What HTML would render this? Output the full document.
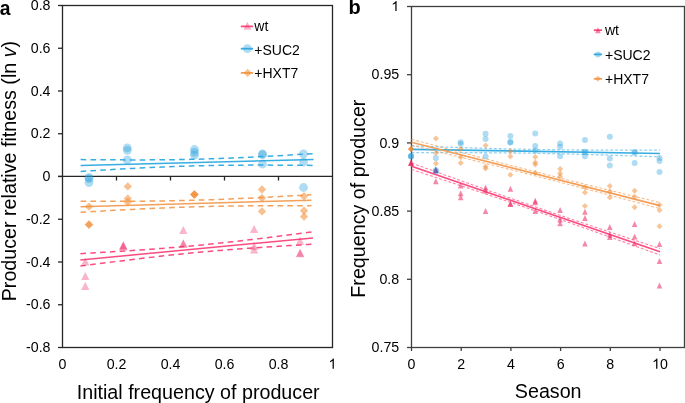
<!DOCTYPE html>
<html><head><meta charset="utf-8"><style>
html,body{margin:0;padding:0;background:#fff;overflow:hidden;}
svg{display:block;font-family:"Liberation Sans", sans-serif;will-change:transform;}
text{fill:#000;}
</style></head><body>
<svg width="685" height="403" viewBox="0 0 685 403">
<rect x="62.5" y="5.5" width="270.0" height="342.0" fill="none" stroke="#262626" stroke-width="1.3"/>
<line x1="58.00" y1="176.30" x2="332.50" y2="176.30" stroke="#262626" stroke-width="1.3" />
<line x1="58.00" y1="5.50" x2="62.50" y2="5.50" stroke="#262626" stroke-width="1.3" />
<text x="50.50" y="10.10" font-size="14.2" text-anchor="end" >0.8</text>
<line x1="58.00" y1="48.25" x2="62.50" y2="48.25" stroke="#262626" stroke-width="1.3" />
<text x="50.50" y="52.85" font-size="14.2" text-anchor="end" >0.6</text>
<line x1="58.00" y1="91.00" x2="62.50" y2="91.00" stroke="#262626" stroke-width="1.3" />
<text x="50.50" y="95.60" font-size="14.2" text-anchor="end" >0.4</text>
<line x1="58.00" y1="133.75" x2="62.50" y2="133.75" stroke="#262626" stroke-width="1.3" />
<text x="50.50" y="138.35" font-size="14.2" text-anchor="end" >0.2</text>
<line x1="58.00" y1="176.50" x2="62.50" y2="176.50" stroke="#262626" stroke-width="1.3" />
<text x="50.50" y="181.10" font-size="14.2" text-anchor="end" >0</text>
<line x1="58.00" y1="219.25" x2="62.50" y2="219.25" stroke="#262626" stroke-width="1.3" />
<text x="50.50" y="223.85" font-size="14.2" text-anchor="end" >-0.2</text>
<line x1="58.00" y1="262.00" x2="62.50" y2="262.00" stroke="#262626" stroke-width="1.3" />
<text x="50.50" y="266.60" font-size="14.2" text-anchor="end" >-0.4</text>
<line x1="58.00" y1="304.75" x2="62.50" y2="304.75" stroke="#262626" stroke-width="1.3" />
<text x="50.50" y="309.35" font-size="14.2" text-anchor="end" >-0.6</text>
<line x1="58.00" y1="347.50" x2="62.50" y2="347.50" stroke="#262626" stroke-width="1.3" />
<text x="50.50" y="352.10" font-size="14.2" text-anchor="end" >-0.8</text>
<line x1="116.50" y1="176.30" x2="116.50" y2="180.50" stroke="#262626" stroke-width="1.3" />
<line x1="170.50" y1="176.30" x2="170.50" y2="180.50" stroke="#262626" stroke-width="1.3" />
<line x1="224.50" y1="176.30" x2="224.50" y2="180.50" stroke="#262626" stroke-width="1.3" />
<line x1="278.50" y1="176.30" x2="278.50" y2="180.50" stroke="#262626" stroke-width="1.3" />
<text x="62.50" y="368.70" font-size="14.2" text-anchor="middle" >0</text>
<text x="116.50" y="368.70" font-size="14.2" text-anchor="middle" >0.2</text>
<text x="170.50" y="368.70" font-size="14.2" text-anchor="middle" >0.4</text>
<text x="224.50" y="368.70" font-size="14.2" text-anchor="middle" >0.6</text>
<text x="278.50" y="368.70" font-size="14.2" text-anchor="middle" >0.8</text>
<path transform="translate(328.55,368.70) scale(0.00693,-0.00693)" d="M763 0L583 0L583 1147Q518 1085 412.5 1023Q307 961 223 930L223 1104Q374 1175 487 1276Q600 1377 647 1472L763 1472Z" fill="#000"/>
<rect x="411.5" y="6.5" width="273.0" height="341.0" fill="none" stroke="#3f3f3f" stroke-width="1.3"/>
<line x1="407.00" y1="6.50" x2="411.50" y2="6.50" stroke="#3f3f3f" stroke-width="1.3" />
<path transform="translate(391.30,11.10) scale(0.00693,-0.00693)" d="M763 0L583 0L583 1147Q518 1085 412.5 1023Q307 961 223 930L223 1104Q374 1175 487 1276Q600 1377 647 1472L763 1472Z" fill="#000"/>
<line x1="407.00" y1="74.70" x2="411.50" y2="74.70" stroke="#3f3f3f" stroke-width="1.3" />
<text x="399.20" y="79.30" font-size="14.2" text-anchor="end" >0.95</text>
<line x1="407.00" y1="142.90" x2="411.50" y2="142.90" stroke="#3f3f3f" stroke-width="1.3" />
<text x="399.20" y="147.50" font-size="14.2" text-anchor="end" >0.9</text>
<line x1="407.00" y1="211.10" x2="411.50" y2="211.10" stroke="#3f3f3f" stroke-width="1.3" />
<text x="399.20" y="215.70" font-size="14.2" text-anchor="end" >0.85</text>
<line x1="407.00" y1="279.30" x2="411.50" y2="279.30" stroke="#3f3f3f" stroke-width="1.3" />
<text x="399.20" y="283.90" font-size="14.2" text-anchor="end" >0.8</text>
<line x1="407.00" y1="347.50" x2="411.50" y2="347.50" stroke="#3f3f3f" stroke-width="1.3" />
<text x="399.20" y="352.10" font-size="14.2" text-anchor="end" >0.75</text>
<line x1="411.50" y1="347.50" x2="411.50" y2="351.00" stroke="#3f3f3f" stroke-width="1.3" />
<text x="411.50" y="368.70" font-size="14.2" text-anchor="middle" >0</text>
<line x1="461.20" y1="347.50" x2="461.20" y2="351.00" stroke="#3f3f3f" stroke-width="1.3" />
<text x="461.20" y="368.70" font-size="14.2" text-anchor="middle" >2</text>
<line x1="510.90" y1="347.50" x2="510.90" y2="351.00" stroke="#3f3f3f" stroke-width="1.3" />
<text x="510.90" y="368.70" font-size="14.2" text-anchor="middle" >4</text>
<line x1="560.60" y1="347.50" x2="560.60" y2="351.00" stroke="#3f3f3f" stroke-width="1.3" />
<text x="560.60" y="368.70" font-size="14.2" text-anchor="middle" >6</text>
<line x1="610.30" y1="347.50" x2="610.30" y2="351.00" stroke="#3f3f3f" stroke-width="1.3" />
<text x="610.30" y="368.70" font-size="14.2" text-anchor="middle" >8</text>
<line x1="660.00" y1="347.50" x2="660.00" y2="351.00" stroke="#3f3f3f" stroke-width="1.3" />
<path transform="translate(652.10,368.70) scale(0.00693,-0.00693)" d="M763 0L583 0L583 1147Q518 1085 412.5 1023Q307 961 223 930L223 1104Q374 1175 487 1276Q600 1377 647 1472L763 1472Z" fill="#000"/>
<text x="660.00" y="368.70" font-size="14.2" text-anchor="start" >0</text>
<polyline points="80.60,159.60 86.42,159.65 92.25,159.70 98.07,159.74 103.90,159.78 109.72,159.82 115.55,159.84 121.38,159.87 127.20,159.88 133.03,159.89 138.85,159.89 144.68,159.88 150.50,159.86 156.32,159.83 162.15,159.79 167.98,159.73 173.80,159.66 179.62,159.57 185.45,159.46 191.28,159.34 197.10,159.20 202.93,159.04 208.75,158.86 214.58,158.67 220.40,158.46 226.23,158.23 232.05,157.99 237.88,157.73 243.70,157.46 249.53,157.18 255.35,156.89 261.18,156.59 267.00,156.28 272.83,155.97 278.65,155.64 284.48,155.32 290.30,154.98 296.12,154.64 301.95,154.30 307.78,153.95 313.60,153.60" fill="none" stroke="#38ade3" stroke-width="1.5" stroke-dasharray="5.6 4.25" stroke-opacity="1"/>
<polyline points="80.60,171.40 86.42,171.05 92.25,170.70 98.07,170.36 103.90,170.02 109.72,169.68 115.55,169.36 121.38,169.03 127.20,168.72 133.03,168.41 138.85,168.11 144.68,167.82 150.50,167.54 156.32,167.27 162.15,167.01 167.98,166.77 173.80,166.54 179.62,166.33 185.45,166.14 191.28,165.96 197.10,165.80 202.93,165.66 208.75,165.54 214.58,165.43 220.40,165.34 226.23,165.27 232.05,165.21 237.88,165.17 243.70,165.14 249.53,165.12 255.35,165.11 261.18,165.11 267.00,165.12 272.83,165.13 278.65,165.16 284.48,165.18 290.30,165.22 296.12,165.26 301.95,165.30 307.78,165.35 313.60,165.40" fill="none" stroke="#38ade3" stroke-width="1.5" stroke-dasharray="5.6 4.25" stroke-opacity="1"/>
<line x1="80.60" y1="165.50" x2="313.60" y2="159.50" stroke="#38ade3" stroke-width="1.5" />
<polyline points="80.60,201.30 86.37,201.31 92.14,201.32 97.91,201.32 103.68,201.32 109.45,201.31 115.22,201.30 120.99,201.28 126.76,201.25 132.53,201.22 138.30,201.18 144.07,201.14 149.84,201.08 155.61,201.01 161.38,200.94 167.15,200.85 172.92,200.74 178.69,200.63 184.46,200.50 190.23,200.36 196.00,200.20 201.77,200.03 207.54,199.84 213.31,199.64 219.08,199.42 224.85,199.20 230.62,198.96 236.39,198.70 242.16,198.44 247.93,198.17 253.70,197.88 259.47,197.59 265.24,197.29 271.01,196.99 276.78,196.68 282.55,196.36 288.32,196.04 294.09,195.71 299.86,195.38 305.63,195.04 311.40,194.70" fill="none" stroke="#f4a05a" stroke-width="1.5" stroke-dasharray="5.6 4.25" stroke-opacity="1"/>
<polyline points="80.60,212.30 86.37,211.96 92.14,211.62 97.91,211.29 103.68,210.96 109.45,210.64 115.22,210.32 120.99,210.01 126.76,209.71 132.53,209.41 138.30,209.12 144.07,208.83 149.84,208.56 155.61,208.30 161.38,208.04 167.15,207.80 172.92,207.58 178.69,207.36 184.46,207.16 190.23,206.97 196.00,206.80 201.77,206.64 207.54,206.50 213.31,206.37 219.08,206.26 224.85,206.15 230.62,206.06 236.39,205.99 242.16,205.92 247.93,205.86 253.70,205.82 259.47,205.78 265.24,205.75 271.01,205.72 276.78,205.70 282.55,205.69 288.32,205.68 294.09,205.68 299.86,205.68 305.63,205.69 311.40,205.70" fill="none" stroke="#f4a05a" stroke-width="1.5" stroke-dasharray="5.6 4.25" stroke-opacity="1"/>
<line x1="80.60" y1="206.80" x2="311.40" y2="200.20" stroke="#f4a05a" stroke-width="1.5" />
<polyline points="80.40,253.70 86.22,253.36 92.03,253.02 97.84,252.67 103.66,252.32 109.48,251.97 115.29,251.61 121.11,251.24 126.92,250.86 132.74,250.48 138.55,250.09 144.37,249.69 150.18,249.28 156.00,248.85 161.81,248.41 167.62,247.96 173.44,247.49 179.25,247.01 185.07,246.51 190.88,245.99 196.70,245.45 202.51,244.89 208.33,244.32 214.15,243.72 219.96,243.11 225.78,242.49 231.59,241.84 237.41,241.19 243.22,240.52 249.03,239.83 254.85,239.14 260.66,238.44 266.48,237.72 272.30,237.00 278.11,236.28 283.93,235.54 289.74,234.80 295.55,234.06 301.37,233.31 307.19,232.56 313.00,231.80" fill="none" stroke="#fb4c80" stroke-width="1.5" stroke-dasharray="5.6 4.25" stroke-opacity="1"/>
<polyline points="80.40,266.10 86.22,265.34 92.03,264.59 97.84,263.84 103.66,263.10 109.48,262.36 115.29,261.62 121.11,260.90 126.92,260.18 132.74,259.46 138.55,258.76 144.37,258.07 150.18,257.38 156.00,256.71 161.81,256.06 167.62,255.41 173.44,254.79 179.25,254.18 185.07,253.58 190.88,253.01 196.70,252.45 202.51,251.91 208.33,251.39 214.15,250.89 219.96,250.41 225.78,249.94 231.59,249.49 237.41,249.05 243.22,248.62 249.03,248.21 254.85,247.81 260.66,247.42 266.48,247.04 272.30,246.66 278.11,246.29 283.93,245.93 289.74,245.58 295.55,245.23 301.37,244.88 307.19,244.54 313.00,244.20" fill="none" stroke="#fb4c80" stroke-width="1.5" stroke-dasharray="5.6 4.25" stroke-opacity="1"/>
<line x1="80.40" y1="259.90" x2="313.00" y2="238.00" stroke="#fb4c80" stroke-width="1.5" />
<circle cx="89.00" cy="177.40" r="4.4" fill="#2ea3dc" fill-opacity="0.38"/>
<circle cx="89.00" cy="178.60" r="4.4" fill="#2ea3dc" fill-opacity="0.38"/>
<circle cx="89.00" cy="182.60" r="4.4" fill="#2ea3dc" fill-opacity="0.38"/>
<circle cx="127.30" cy="147.90" r="4.4" fill="#2ea3dc" fill-opacity="0.38"/>
<circle cx="127.30" cy="150.30" r="4.4" fill="#2ea3dc" fill-opacity="0.38"/>
<circle cx="127.30" cy="159.80" r="4.4" fill="#2ea3dc" fill-opacity="0.38"/>
<circle cx="194.50" cy="149.50" r="4.4" fill="#2ea3dc" fill-opacity="0.38"/>
<circle cx="194.50" cy="152.40" r="4.4" fill="#2ea3dc" fill-opacity="0.38"/>
<circle cx="194.50" cy="155.20" r="4.4" fill="#2ea3dc" fill-opacity="0.38"/>
<circle cx="262.50" cy="154.00" r="4.4" fill="#2ea3dc" fill-opacity="0.38"/>
<circle cx="262.50" cy="154.60" r="4.4" fill="#2ea3dc" fill-opacity="0.38"/>
<circle cx="262.50" cy="164.00" r="4.4" fill="#2ea3dc" fill-opacity="0.38"/>
<circle cx="303.50" cy="153.80" r="4.4" fill="#2ea3dc" fill-opacity="0.38"/>
<circle cx="303.50" cy="162.00" r="4.4" fill="#2ea3dc" fill-opacity="0.38"/>
<circle cx="303.50" cy="187.50" r="4.4" fill="#2ea3dc" fill-opacity="0.38"/>
<path d="M89.00 202.40L93.20 206.60L89.00 210.80L84.80 206.60Z" fill="#f08c32" fill-opacity="0.55"/>
<path d="M89.00 220.20L93.20 224.40L89.00 228.60L84.80 224.40Z" fill="#f08c32" fill-opacity="0.55"/>
<path d="M89.00 220.60L93.20 224.80L89.00 229.00L84.80 224.80Z" fill="#f08c32" fill-opacity="0.55"/>
<path d="M127.80 182.20L132.00 186.40L127.80 190.60L123.60 186.40Z" fill="#f08c32" fill-opacity="0.55"/>
<path d="M127.80 194.40L132.00 198.60L127.80 202.80L123.60 198.60Z" fill="#f08c32" fill-opacity="0.55"/>
<path d="M127.80 197.80L132.00 202.00L127.80 206.20L123.60 202.00Z" fill="#f08c32" fill-opacity="0.55"/>
<path d="M194.40 190.20L198.60 194.40L194.40 198.60L190.20 194.40Z" fill="#f08c32" fill-opacity="0.55"/>
<path d="M194.40 190.30L198.60 194.50L194.40 198.70L190.20 194.50Z" fill="#f08c32" fill-opacity="0.55"/>
<path d="M194.40 190.40L198.60 194.60L194.40 198.80L190.20 194.60Z" fill="#f08c32" fill-opacity="0.55"/>
<path d="M262.00 185.30L266.20 189.50L262.00 193.70L257.80 189.50Z" fill="#f08c32" fill-opacity="0.55"/>
<path d="M262.00 193.80L266.20 198.00L262.00 202.20L257.80 198.00Z" fill="#f08c32" fill-opacity="0.55"/>
<path d="M262.00 207.20L266.20 211.40L262.00 215.60L257.80 211.40Z" fill="#f08c32" fill-opacity="0.55"/>
<path d="M304.00 192.10L308.20 196.30L304.00 200.50L299.80 196.30Z" fill="#f08c32" fill-opacity="0.55"/>
<path d="M304.00 206.50L308.20 210.70L304.00 214.90L299.80 210.70Z" fill="#f08c32" fill-opacity="0.55"/>
<path d="M304.00 212.40L308.20 216.60L304.00 220.80L299.80 216.60Z" fill="#f08c32" fill-opacity="0.55"/>
<path d="M85.30 257.45L89.40 265.55L81.20 265.55Z" fill="#ee2a66" fill-opacity="0.35"/>
<path d="M85.30 271.95L89.40 280.05L81.20 280.05Z" fill="#ee2a66" fill-opacity="0.35"/>
<path d="M85.30 281.95L89.40 290.05L81.20 290.05Z" fill="#ee2a66" fill-opacity="0.35"/>
<path d="M123.30 241.15L127.40 249.25L119.20 249.25Z" fill="#ee2a66" fill-opacity="0.35"/>
<path d="M123.30 241.55L127.40 249.65L119.20 249.65Z" fill="#ee2a66" fill-opacity="0.35"/>
<path d="M123.30 242.15L127.40 250.25L119.20 250.25Z" fill="#ee2a66" fill-opacity="0.35"/>
<path d="M183.30 225.95L187.40 234.05L179.20 234.05Z" fill="#ee2a66" fill-opacity="0.35"/>
<path d="M183.30 239.35L187.40 247.45L179.20 247.45Z" fill="#ee2a66" fill-opacity="0.35"/>
<path d="M183.30 239.75L187.40 247.85L179.20 247.85Z" fill="#ee2a66" fill-opacity="0.35"/>
<path d="M254.10 224.95L258.20 233.05L250.00 233.05Z" fill="#ee2a66" fill-opacity="0.35"/>
<path d="M254.10 241.95L258.20 250.05L250.00 250.05Z" fill="#ee2a66" fill-opacity="0.35"/>
<path d="M254.10 245.45L258.20 253.55L250.00 253.55Z" fill="#ee2a66" fill-opacity="0.35"/>
<path d="M300.10 236.65L304.20 244.75L296.00 244.75Z" fill="#ee2a66" fill-opacity="0.35"/>
<path d="M300.10 248.75L304.20 256.85L296.00 256.85Z" fill="#ee2a66" fill-opacity="0.35"/>
<path d="M300.10 249.15L304.20 257.25L296.00 257.25Z" fill="#ee2a66" fill-opacity="0.35"/>
<polyline points="411.50,145.90 417.71,146.12 423.93,146.34 430.14,146.56 436.35,146.77 442.56,146.98 448.77,147.19 454.99,147.40 461.20,147.60 467.41,147.79 473.62,147.98 479.84,148.17 486.05,148.35 492.26,148.52 498.48,148.69 504.69,148.85 510.90,149.00 517.11,149.14 523.33,149.27 529.54,149.39 535.75,149.50 541.96,149.60 548.17,149.69 554.39,149.77 560.60,149.84 566.81,149.90 573.02,149.95 579.24,149.99 585.45,150.03 591.66,150.06 597.88,150.08 604.09,150.10 610.30,150.12 616.51,150.13 622.73,150.13 628.94,150.13 635.15,150.13 641.36,150.13 647.58,150.12 653.79,150.11 660.00,150.10" fill="none" stroke="#38ade3" stroke-width="1.3" stroke-dasharray="2.9 1.95" stroke-opacity="0.55"/>
<polyline points="411.50,152.70 417.71,152.69 423.93,152.68 430.14,152.67 436.35,152.67 442.56,152.67 448.77,152.67 454.99,152.67 461.20,152.68 467.41,152.70 473.62,152.72 479.84,152.74 486.05,152.77 492.26,152.81 498.48,152.85 504.69,152.90 510.90,152.96 517.11,153.03 523.33,153.11 529.54,153.20 535.75,153.30 541.96,153.41 548.17,153.53 554.39,153.66 560.60,153.80 566.81,153.95 573.02,154.11 579.24,154.28 585.45,154.45 591.66,154.63 597.88,154.82 604.09,155.01 610.30,155.20 616.51,155.40 622.73,155.61 628.94,155.82 635.15,156.03 641.36,156.24 647.58,156.46 653.79,156.68 660.00,156.90" fill="none" stroke="#38ade3" stroke-width="1.3" stroke-dasharray="2.9 1.95" stroke-opacity="0.55"/>
<line x1="411.50" y1="149.30" x2="660.00" y2="153.50" stroke="#38ade3" stroke-width="1.7" />
<polyline points="411.50,139.20 417.71,140.86 423.93,142.52 430.14,144.18 436.35,145.83 442.56,147.48 448.77,149.13 454.99,150.78 461.20,152.42 467.41,154.06 473.62,155.69 479.84,157.32 486.05,158.95 492.26,160.58 498.48,162.19 504.69,163.81 510.90,165.42 517.11,167.02 523.33,168.62 529.54,170.21 535.75,171.80 541.96,173.38 548.17,174.96 554.39,176.53 560.60,178.10 566.81,179.66 573.02,181.21 579.24,182.77 585.45,184.31 591.66,185.85 597.88,187.39 604.09,188.93 610.30,190.46 616.51,191.99 622.73,193.51 628.94,195.03 635.15,196.55 641.36,198.07 647.58,199.58 653.79,201.09 660.00,202.60" fill="none" stroke="#f4a05a" stroke-width="1.1" stroke-dasharray="2.9 1.95" stroke-opacity="0.7"/>
<polyline points="411.50,145.20 417.71,146.71 423.93,148.22 430.14,149.73 436.35,151.25 442.56,152.77 448.77,154.29 454.99,155.81 461.20,157.34 467.41,158.87 473.62,160.41 479.84,161.95 486.05,163.49 492.26,165.03 498.48,166.59 504.69,168.14 510.90,169.70 517.11,171.27 523.33,172.84 529.54,174.42 535.75,176.00 541.96,177.59 548.17,179.18 554.39,180.78 560.60,182.38 566.81,183.99 573.02,185.61 579.24,187.22 585.45,188.85 591.66,190.48 597.88,192.11 604.09,193.74 610.30,195.38 616.51,197.02 622.73,198.67 628.94,200.32 635.15,201.97 641.36,203.62 647.58,205.28 653.79,206.94 660.00,208.60" fill="none" stroke="#f4a05a" stroke-width="1.1" stroke-dasharray="2.9 1.95" stroke-opacity="0.7"/>
<line x1="411.50" y1="142.20" x2="660.00" y2="205.60" stroke="#f4a05a" stroke-width="1.6" />
<polyline points="411.50,163.00 417.71,165.24 423.93,167.47 430.14,169.70 436.35,171.93 442.56,174.16 448.77,176.38 454.99,178.60 461.20,180.82 467.41,183.03 473.62,185.24 479.84,187.45 486.05,189.64 492.26,191.84 498.48,194.02 504.69,196.20 510.90,198.38 517.11,200.55 523.33,202.70 529.54,204.86 535.75,207.00 541.96,209.14 548.17,211.26 554.39,213.39 560.60,215.50 566.81,217.60 573.02,219.70 579.24,221.80 585.45,223.88 591.66,225.97 597.88,228.04 604.09,230.11 610.30,232.18 616.51,234.24 622.73,236.30 628.94,238.36 635.15,240.41 641.36,242.46 647.58,244.51 653.79,246.56 660.00,248.60" fill="none" stroke="#fb4c80" stroke-width="1.1" stroke-dasharray="2.9 1.95" stroke-opacity="0.7"/>
<polyline points="411.50,169.40 417.71,171.44 423.93,173.49 430.14,175.54 436.35,177.59 442.56,179.64 448.77,181.70 454.99,183.76 461.20,185.82 467.41,187.89 473.62,189.96 479.84,192.03 486.05,194.12 492.26,196.20 498.48,198.30 504.69,200.40 510.90,202.50 517.11,204.61 523.33,206.74 529.54,208.86 535.75,211.00 541.96,213.14 548.17,215.30 554.39,217.45 560.60,219.62 566.81,221.80 573.02,223.98 579.24,226.16 585.45,228.36 591.66,230.55 597.88,232.76 604.09,234.97 610.30,237.18 616.51,239.40 622.73,241.62 628.94,243.84 635.15,246.07 641.36,248.30 647.58,250.53 653.79,252.76 660.00,255.00" fill="none" stroke="#fb4c80" stroke-width="1.1" stroke-dasharray="2.9 1.95" stroke-opacity="0.7"/>
<line x1="411.50" y1="166.20" x2="660.00" y2="251.80" stroke="#fb4c80" stroke-width="1.6" />
<circle cx="411.00" cy="156.20" r="3" fill="#2ea3dc" fill-opacity="0.38"/>
<circle cx="411.00" cy="156.20" r="3" fill="#2ea3dc" fill-opacity="0.38"/>
<circle cx="411.00" cy="156.20" r="3" fill="#2ea3dc" fill-opacity="0.38"/>
<circle cx="435.85" cy="158.00" r="3" fill="#2ea3dc" fill-opacity="0.38"/>
<circle cx="435.85" cy="170.20" r="3" fill="#2ea3dc" fill-opacity="0.38"/>
<circle cx="435.85" cy="171.20" r="3" fill="#2ea3dc" fill-opacity="0.38"/>
<circle cx="460.70" cy="142.30" r="3" fill="#2ea3dc" fill-opacity="0.38"/>
<circle cx="460.70" cy="144.10" r="3" fill="#2ea3dc" fill-opacity="0.38"/>
<circle cx="485.55" cy="133.70" r="3" fill="#2ea3dc" fill-opacity="0.38"/>
<circle cx="485.55" cy="139.00" r="3" fill="#2ea3dc" fill-opacity="0.38"/>
<circle cx="485.55" cy="156.50" r="3" fill="#2ea3dc" fill-opacity="0.38"/>
<circle cx="510.40" cy="136.10" r="3" fill="#2ea3dc" fill-opacity="0.38"/>
<circle cx="510.40" cy="142.00" r="3" fill="#2ea3dc" fill-opacity="0.38"/>
<circle cx="510.40" cy="142.60" r="3" fill="#2ea3dc" fill-opacity="0.38"/>
<circle cx="535.25" cy="133.40" r="3" fill="#2ea3dc" fill-opacity="0.38"/>
<circle cx="535.25" cy="146.00" r="3" fill="#2ea3dc" fill-opacity="0.38"/>
<circle cx="535.25" cy="150.50" r="3" fill="#2ea3dc" fill-opacity="0.38"/>
<circle cx="560.10" cy="143.50" r="3" fill="#2ea3dc" fill-opacity="0.38"/>
<circle cx="560.10" cy="146.80" r="3" fill="#2ea3dc" fill-opacity="0.38"/>
<circle cx="560.10" cy="156.20" r="3" fill="#2ea3dc" fill-opacity="0.38"/>
<circle cx="584.95" cy="140.10" r="3" fill="#2ea3dc" fill-opacity="0.38"/>
<circle cx="584.95" cy="151.70" r="3" fill="#2ea3dc" fill-opacity="0.38"/>
<circle cx="584.95" cy="152.30" r="3" fill="#2ea3dc" fill-opacity="0.38"/>
<circle cx="584.95" cy="156.20" r="3" fill="#2ea3dc" fill-opacity="0.38"/>
<circle cx="609.80" cy="136.70" r="3" fill="#2ea3dc" fill-opacity="0.38"/>
<circle cx="609.80" cy="158.40" r="3" fill="#2ea3dc" fill-opacity="0.38"/>
<circle cx="609.80" cy="165.40" r="3" fill="#2ea3dc" fill-opacity="0.38"/>
<circle cx="634.65" cy="152.10" r="3" fill="#2ea3dc" fill-opacity="0.38"/>
<circle cx="634.65" cy="152.70" r="3" fill="#2ea3dc" fill-opacity="0.38"/>
<circle cx="634.65" cy="162.90" r="3" fill="#2ea3dc" fill-opacity="0.38"/>
<circle cx="659.50" cy="157.90" r="3" fill="#2ea3dc" fill-opacity="0.38"/>
<circle cx="659.50" cy="160.90" r="3" fill="#2ea3dc" fill-opacity="0.38"/>
<circle cx="659.50" cy="172.10" r="3" fill="#2ea3dc" fill-opacity="0.38"/>
<path d="M411.00 146.00L414.00 149.00L411.00 152.00L408.00 149.00Z" fill="#f08c32" fill-opacity="0.5"/>
<path d="M411.00 146.00L414.00 149.00L411.00 152.00L408.00 149.00Z" fill="#f08c32" fill-opacity="0.5"/>
<path d="M411.00 146.00L414.00 149.00L411.00 152.00L408.00 149.00Z" fill="#f08c32" fill-opacity="0.5"/>
<path d="M435.85 135.60L438.85 138.60L435.85 141.60L432.85 138.60Z" fill="#f08c32" fill-opacity="0.5"/>
<path d="M435.85 150.00L438.85 153.00L435.85 156.00L432.85 153.00Z" fill="#f08c32" fill-opacity="0.5"/>
<path d="M435.85 160.50L438.85 163.50L435.85 166.50L432.85 163.50Z" fill="#f08c32" fill-opacity="0.5"/>
<path d="M460.70 146.00L463.70 149.00L460.70 152.00L457.70 149.00Z" fill="#f08c32" fill-opacity="0.5"/>
<path d="M460.70 154.20L463.70 157.20L460.70 160.20L457.70 157.20Z" fill="#f08c32" fill-opacity="0.5"/>
<path d="M460.70 159.90L463.70 162.90L460.70 165.90L457.70 162.90Z" fill="#f08c32" fill-opacity="0.5"/>
<path d="M485.55 142.60L488.55 145.60L485.55 148.60L482.55 145.60Z" fill="#f08c32" fill-opacity="0.5"/>
<path d="M485.55 163.40L488.55 166.40L485.55 169.40L482.55 166.40Z" fill="#f08c32" fill-opacity="0.5"/>
<path d="M485.55 165.60L488.55 168.60L485.55 171.60L482.55 168.60Z" fill="#f08c32" fill-opacity="0.5"/>
<path d="M510.40 148.25L513.40 151.25L510.40 154.25L507.40 151.25Z" fill="#f08c32" fill-opacity="0.5"/>
<path d="M510.40 153.50L513.40 156.50L510.40 159.50L507.40 156.50Z" fill="#f08c32" fill-opacity="0.5"/>
<path d="M510.40 171.70L513.40 174.70L510.40 177.70L507.40 174.70Z" fill="#f08c32" fill-opacity="0.5"/>
<path d="M535.25 153.90L538.25 156.90L535.25 159.90L532.25 156.90Z" fill="#f08c32" fill-opacity="0.5"/>
<path d="M535.25 159.60L538.25 162.60L535.25 165.60L532.25 162.60Z" fill="#f08c32" fill-opacity="0.5"/>
<path d="M535.25 161.60L538.25 164.60L535.25 167.60L532.25 164.60Z" fill="#f08c32" fill-opacity="0.5"/>
<path d="M535.25 169.80L538.25 172.80L535.25 175.80L532.25 172.80Z" fill="#f08c32" fill-opacity="0.5"/>
<path d="M560.10 165.90L563.10 168.90L560.10 171.90L557.10 168.90Z" fill="#f08c32" fill-opacity="0.5"/>
<path d="M560.10 170.60L563.10 173.60L560.10 176.60L557.10 173.60Z" fill="#f08c32" fill-opacity="0.5"/>
<path d="M560.10 173.40L563.10 176.40L560.10 179.40L557.10 176.40Z" fill="#f08c32" fill-opacity="0.5"/>
<path d="M584.95 184.30L587.95 187.30L584.95 190.30L581.95 187.30Z" fill="#f08c32" fill-opacity="0.5"/>
<path d="M584.95 189.50L587.95 192.50L584.95 195.50L581.95 192.50Z" fill="#f08c32" fill-opacity="0.5"/>
<path d="M584.95 203.00L587.95 206.00L584.95 209.00L581.95 206.00Z" fill="#f08c32" fill-opacity="0.5"/>
<path d="M609.80 183.10L612.80 186.10L609.80 189.10L606.80 186.10Z" fill="#f08c32" fill-opacity="0.5"/>
<path d="M609.80 188.60L612.80 191.60L609.80 194.60L606.80 191.60Z" fill="#f08c32" fill-opacity="0.5"/>
<path d="M609.80 194.50L612.80 197.50L609.80 200.50L606.80 197.50Z" fill="#f08c32" fill-opacity="0.5"/>
<path d="M634.65 187.80L637.65 190.80L634.65 193.80L631.65 190.80Z" fill="#f08c32" fill-opacity="0.5"/>
<path d="M634.65 193.80L637.65 196.80L634.65 199.80L631.65 196.80Z" fill="#f08c32" fill-opacity="0.5"/>
<path d="M634.65 204.20L637.65 207.20L634.65 210.20L631.65 207.20Z" fill="#f08c32" fill-opacity="0.5"/>
<path d="M659.50 202.00L662.50 205.00L659.50 208.00L656.50 205.00Z" fill="#f08c32" fill-opacity="0.5"/>
<path d="M659.50 207.20L662.50 210.20L659.50 213.20L656.50 210.20Z" fill="#f08c32" fill-opacity="0.5"/>
<path d="M659.50 223.20L662.50 226.20L659.50 229.20L656.50 226.20Z" fill="#f08c32" fill-opacity="0.5"/>
<path d="M411.00 159.70L413.80 165.70L408.20 165.70Z" fill="#ee2a66" fill-opacity="0.56"/>
<path d="M411.00 159.70L413.80 165.70L408.20 165.70Z" fill="#ee2a66" fill-opacity="0.56"/>
<path d="M411.00 159.70L413.80 165.70L408.20 165.70Z" fill="#ee2a66" fill-opacity="0.56"/>
<path d="M435.85 178.30L438.65 184.30L433.05 184.30Z" fill="#ee2a66" fill-opacity="0.56"/>
<path d="M460.70 182.40L463.50 188.40L457.90 188.40Z" fill="#ee2a66" fill-opacity="0.56"/>
<path d="M460.70 190.30L463.50 196.30L457.90 196.30Z" fill="#ee2a66" fill-opacity="0.56"/>
<path d="M460.70 194.30L463.50 200.30L457.90 200.30Z" fill="#ee2a66" fill-opacity="0.56"/>
<path d="M485.55 184.60L488.35 190.60L482.75 190.60Z" fill="#ee2a66" fill-opacity="0.56"/>
<path d="M485.55 187.60L488.35 193.60L482.75 193.60Z" fill="#ee2a66" fill-opacity="0.56"/>
<path d="M485.55 207.90L488.35 213.90L482.75 213.90Z" fill="#ee2a66" fill-opacity="0.56"/>
<path d="M510.40 185.80L513.20 191.80L507.60 191.80Z" fill="#ee2a66" fill-opacity="0.56"/>
<path d="M510.40 200.50L513.20 206.50L507.60 206.50Z" fill="#ee2a66" fill-opacity="0.56"/>
<path d="M510.40 201.00L513.20 207.00L507.60 207.00Z" fill="#ee2a66" fill-opacity="0.56"/>
<path d="M535.25 197.70L538.05 203.70L532.45 203.70Z" fill="#ee2a66" fill-opacity="0.56"/>
<path d="M535.25 199.20L538.05 205.20L532.45 205.20Z" fill="#ee2a66" fill-opacity="0.56"/>
<path d="M535.25 208.00L538.05 214.00L532.45 214.00Z" fill="#ee2a66" fill-opacity="0.56"/>
<path d="M560.10 207.00L562.90 213.00L557.30 213.00Z" fill="#ee2a66" fill-opacity="0.56"/>
<path d="M560.10 216.50L562.90 222.50L557.30 222.50Z" fill="#ee2a66" fill-opacity="0.56"/>
<path d="M560.10 220.20L562.90 226.20L557.30 226.20Z" fill="#ee2a66" fill-opacity="0.56"/>
<path d="M584.95 208.70L587.75 214.70L582.15 214.70Z" fill="#ee2a66" fill-opacity="0.56"/>
<path d="M584.95 215.00L587.75 221.00L582.15 221.00Z" fill="#ee2a66" fill-opacity="0.56"/>
<path d="M584.95 240.40L587.75 246.40L582.15 246.40Z" fill="#ee2a66" fill-opacity="0.56"/>
<path d="M609.80 223.90L612.60 229.90L607.00 229.90Z" fill="#ee2a66" fill-opacity="0.56"/>
<path d="M609.80 231.50L612.60 237.50L607.00 237.50Z" fill="#ee2a66" fill-opacity="0.56"/>
<path d="M609.80 234.00L612.60 240.00L607.00 240.00Z" fill="#ee2a66" fill-opacity="0.56"/>
<path d="M634.65 221.00L637.45 227.00L631.85 227.00Z" fill="#ee2a66" fill-opacity="0.56"/>
<path d="M634.65 233.60L637.45 239.60L631.85 239.60Z" fill="#ee2a66" fill-opacity="0.56"/>
<path d="M634.65 240.30L637.45 246.30L631.85 246.30Z" fill="#ee2a66" fill-opacity="0.56"/>
<path d="M659.50 241.00L662.30 247.00L656.70 247.00Z" fill="#ee2a66" fill-opacity="0.56"/>
<path d="M659.50 257.90L662.30 263.90L656.70 263.90Z" fill="#ee2a66" fill-opacity="0.56"/>
<path d="M659.50 282.40L662.30 288.40L656.70 288.40Z" fill="#ee2a66" fill-opacity="0.56"/>
<path d="M435.85 166.30L438.65 173.30L433.05 173.30Z" fill="#6a58a8" fill-opacity="0.85"/>
<line x1="240.80" y1="26.40" x2="253.00" y2="26.40" stroke="#fb4c80" stroke-width="1.8" />
<path d="M247.40 21.70L251.40 29.70L243.40 29.70Z" fill="#ee2a66" fill-opacity="0.35"/>
<text x="254.30" y="31.00" font-size="14" text-anchor="start" >wt</text>
<line x1="240.80" y1="48.70" x2="253.00" y2="48.70" stroke="#38ade3" stroke-width="1.8" />
<circle cx="247.40" cy="48.70" r="4.4" fill="#2ea3dc" fill-opacity="0.38"/>
<text x="254.30" y="54.60" font-size="14" text-anchor="start" >+SUC2</text>
<line x1="240.80" y1="72.90" x2="253.00" y2="72.90" stroke="#f4a05a" stroke-width="1.8" />
<path d="M247.70 68.70L251.90 72.90L247.70 77.10L243.50 72.90Z" fill="#f08c32" fill-opacity="0.55"/>
<text x="254.30" y="78.30" font-size="14" text-anchor="start" >+HXT7</text>
<line x1="593.80" y1="30.20" x2="602.00" y2="30.20" stroke="#fb4c80" stroke-width="1.8" />
<path d="M597.90 27.20L600.70 33.20L595.10 33.20Z" fill="#ee2a66" fill-opacity="0.56"/>
<text x="605.00" y="35.40" font-size="14" text-anchor="start" >wt</text>
<line x1="593.80" y1="54.40" x2="602.00" y2="54.40" stroke="#38ade3" stroke-width="1.8" />
<circle cx="597.90" cy="54.40" r="3" fill="#2ea3dc" fill-opacity="0.38"/>
<text x="605.00" y="60.30" font-size="14" text-anchor="start" >+SUC2</text>
<line x1="593.80" y1="78.80" x2="602.00" y2="78.80" stroke="#f4a05a" stroke-width="1.8" />
<path d="M597.90 75.80L600.90 78.80L597.90 81.80L594.90 78.80Z" fill="#f08c32" fill-opacity="0.5"/>
<text x="605.00" y="84.20" font-size="14" text-anchor="start" >+HXT7</text>
<text x="198.20" y="398.80" font-size="19.7" text-anchor="middle" >Initial frequency of producer</text>
<text transform="translate(16.1,171.1) rotate(-90)" font-size="19.7" text-anchor="middle">Producer relative fitness (ln <tspan font-style="italic">v</tspan>)</text>
<text x="-0.30" y="14.50" font-size="19.3" text-anchor="start" font-weight="bold">a</text>
<text x="548.20" y="398.10" font-size="19.7" text-anchor="middle" >Season</text>
<text transform="translate(364.6,198.65) rotate(-90)" font-size="19.7" text-anchor="middle">Frequency of producer</text>
<text x="348.50" y="13.60" font-size="20" text-anchor="start" font-weight="bold">b</text>
</svg>
</body></html>
